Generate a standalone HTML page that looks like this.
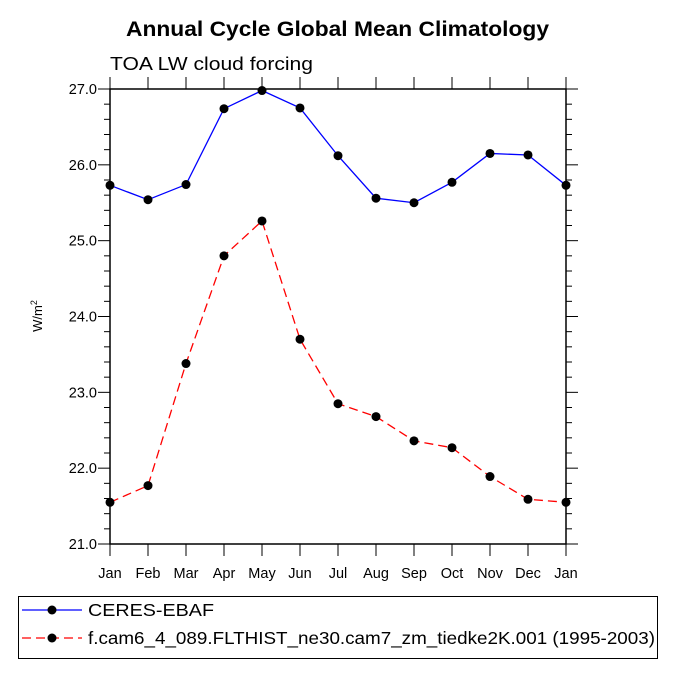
<!DOCTYPE html>
<html><head><meta charset="utf-8"><style>body{margin:0;background:#fff}svg{display:block;font-family:"Liberation Sans",Arial,sans-serif}</style></head>
<body>
<svg id="c" width="675" height="675" viewBox="0 0 675 675">
<text x="126" y="36" font-size="21" font-weight="bold" textLength="423" lengthAdjust="spacingAndGlyphs">Annual Cycle Global Mean Climatology</text>
<text x="110" y="70" font-size="18" textLength="203" lengthAdjust="spacingAndGlyphs">TOA LW cloud forcing</text>
<text transform="translate(42,316) rotate(-90)" text-anchor="middle" font-size="13">W/m<tspan dy="-5" font-size="9">2</tspan></text>
<g id="axes"></g><g id="series"></g>
<g>
<rect x="18.5" y="596.5" width="639" height="62" fill="none" stroke="#000"/>
<line x1="22" y1="610" x2="82" y2="610" stroke="#0000ff" stroke-width="1.2"/><circle cx="52" cy="610" r="4.5"/>
<text x="88" y="616" font-size="17.5" textLength="126" lengthAdjust="spacingAndGlyphs">CERES-EBAF</text>
<line x1="22" y1="638" x2="82" y2="638" stroke="#ff0000" stroke-width="1.2" stroke-dasharray="9,5"/><circle cx="52" cy="638" r="4.5"/>
<text x="88" y="644" font-size="17.5" textLength="567" lengthAdjust="spacingAndGlyphs">f.cam6_4_089.FLTHIST_ne30.cam7_zm_tiedke2K.001 (1995-2003)</text>
</g>
</svg>
<script>
const months=["Jan","Feb","Mar","Apr","May","Jun","Jul","Aug","Sep","Oct","Nov","Dec","Jan"];
const ceres=[25.73,25.54,25.74,26.74,26.98,26.75,26.12,25.56,25.50,25.77,26.15,26.13,25.73];
const model=[21.55,21.77,23.38,24.80,25.26,23.70,22.85,22.68,22.36,22.27,21.89,21.59,21.55];
const yTicks=[21,22,23,24,25,26,27];
const NS="http://www.w3.org/2000/svg";
const X0=110,X1=566,Y0=544,Y1=89,ymin=21,ymax=27;
const xs=i=>X0+(X1-X0)*i/(months.length-1);
const ys=v=>Y0-(v-ymin)/(ymax-ymin)*(Y0-Y1);
function mk(t,a,p){const e=document.createElementNS(NS,t);for(const k in a)e.setAttribute(k,a[k]);p.appendChild(e);return e;}
const ax=document.getElementById('axes');
const fr=mk('rect',{x:X0,y:Y1,width:X1-X0,height:Y0-Y1,fill:'none',stroke:'#000','stroke-width':1.5},ax);


months.forEach((m,i)=>{const x=xs(i);
mk('line',{x1:x,y1:Y0,x2:x,y2:Y0+12,stroke:'#000'},ax);
mk('line',{x1:x,y1:Y1,x2:x,y2:Y1-12,stroke:'#000'},ax);
const t=mk('text',{x:x,y:Y0+34,'text-anchor':'middle','font-size':14.5},ax);t.textContent=m;

});
for(let v=ymin;v<=ymax+1e-9;v+=0.2){const y=ys(v);const maj=Math.abs(v-Math.round(v))<1e-6;const L=maj?12:6;
mk('line',{x1:X0,y1:y,x2:X0-L,y2:y,stroke:'#000'},ax);mk('line',{x1:X1,y1:y,x2:X1+L,y2:y,stroke:'#000'},ax);}
yTicks.forEach(v=>{const t=mk('text',{x:X0-13,y:ys(v)+5,'text-anchor':'end','font-size':14.5},ax);t.textContent=v.toFixed(1);

});
const sg=document.getElementById('series');
function draw(vals,col,dash,name){const g=mk('g',{},sg);


const a={points:vals.map((v,i)=>xs(i)+','+ys(v)).join(' '),fill:'none',stroke:col,'stroke-width':1.3};if(dash)a['stroke-dasharray']=dash;mk('polyline',a,g);
vals.forEach((v,i)=>{const c=mk('circle',{cx:xs(i),cy:ys(v),r:4.5,fill:'#000'},g);

});}
draw(ceres,'#0000ff',null,'series-ceres');
draw(model,'#ff0000','9,5','series-model');
</script>
</body></html>
